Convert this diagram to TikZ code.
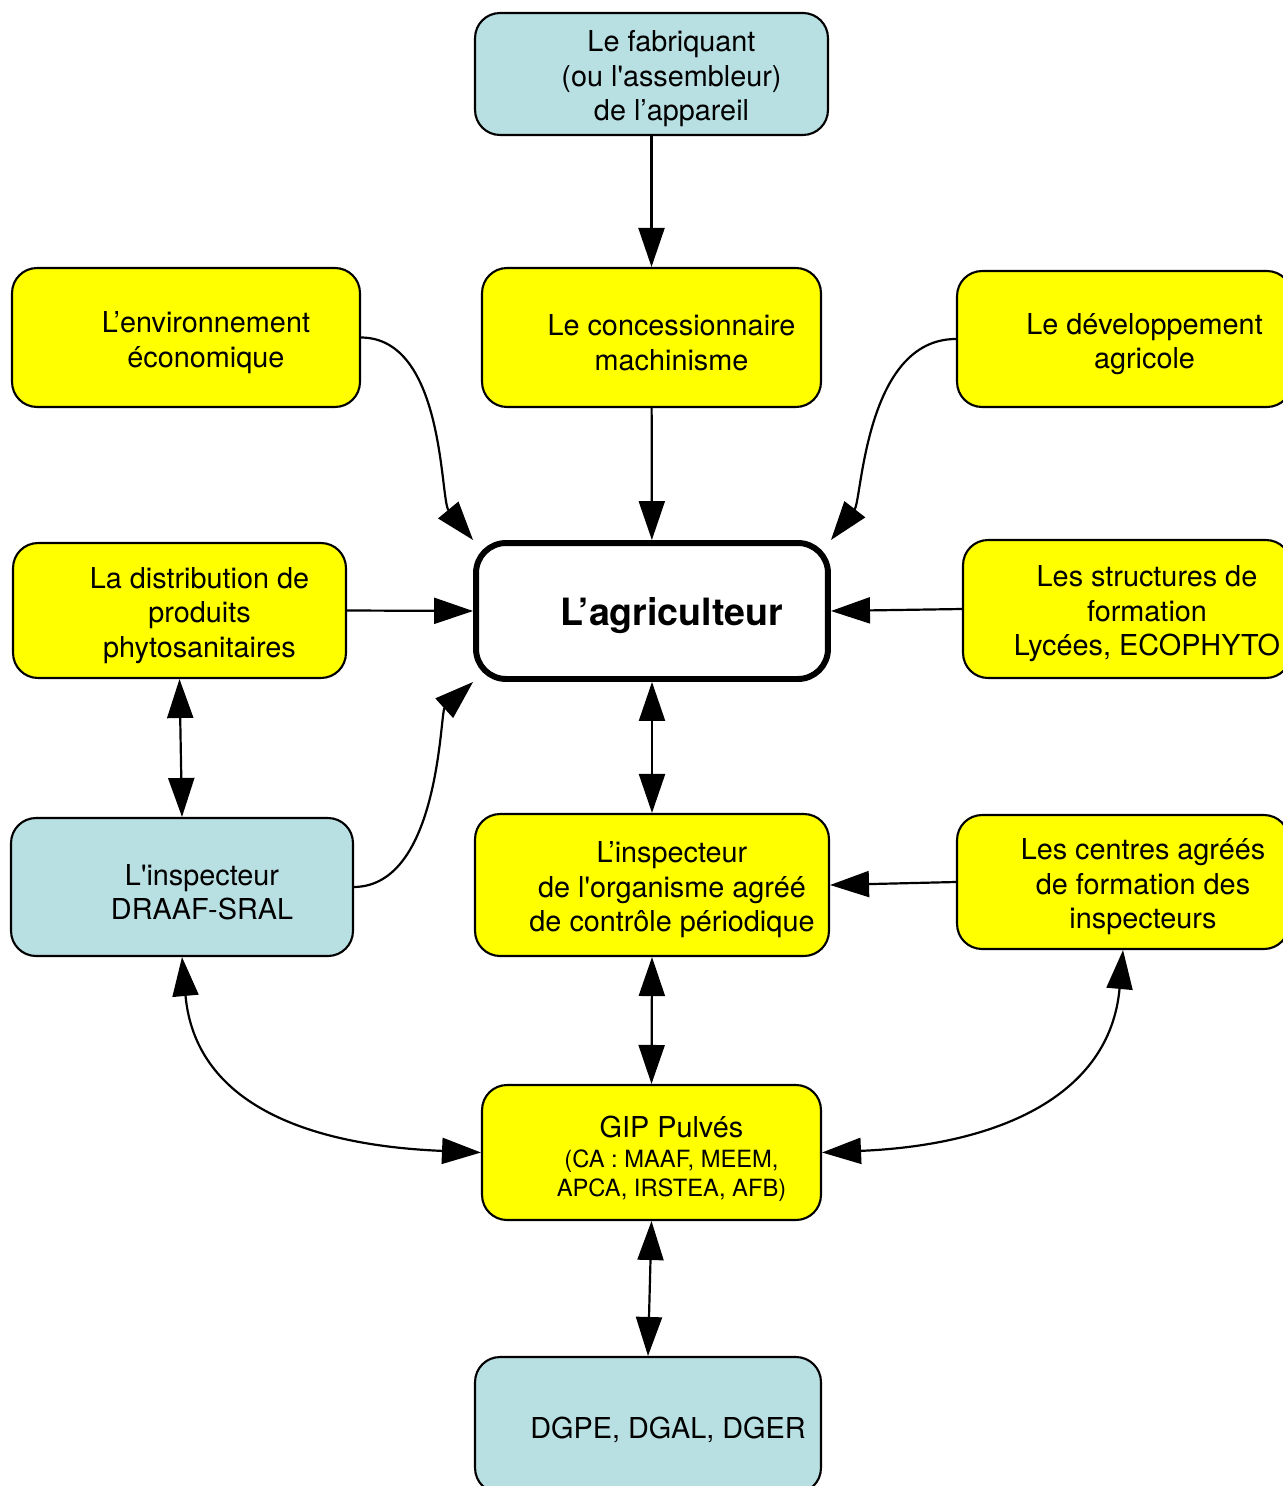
\documentclass[tikz,border=0pt]{standalone}
\usepackage{fontspec}
\setmainfont{TeX Gyre Heros}
\usetikzlibrary{arrows.meta,positioning}
\definecolor{jaune}{HTML}{FFFF00}
\definecolor{bleu}{HTML}{B8DFE2}
\tikzset{
  box/.style={draw,line width=1.2pt,rounded corners=0.5cm},
  ybox/.style={box,fill=jaune},
  bbox/.style={box,fill=bleu},
  txt/.style={align=center,inner sep=0pt,font=\fontsize{16.4}{19.6}\selectfont},
  arr/.style={line width=1.25pt,-{Triangle[length=0.78cm,width=0.52cm]}},
  darr/.style={line width=1.25pt,{Triangle[length=0.78cm,width=0.52cm]}-{Triangle[length=0.78cm,width=0.52cm]}}
}
\begin{document}
\begin{tikzpicture}[x=0.02cm,y=-0.02cm]
  \useasboundingbox (0,0) rectangle (1282,1486);
  % boxes
  \node[bbox,minimum width=7.06cm,minimum height=2.44cm] (fab) at (651.5,74) {};
  \node[ybox,minimum width=6.96cm,minimum height=2.78cm] (env) at (186,337.5) {};
  \node[ybox,minimum width=6.78cm,minimum height=2.78cm] (conc) at (651.5,337.5) {};
  \node[ybox,minimum width=6.70cm,minimum height=2.72cm] (dev) at (1124.5,339) {};
  \node[draw,fill=white,line width=3.4pt,rounded corners=0.6cm,minimum width=7.04cm,minimum height=2.72cm] (agri) at (652,611) {};
  \node[ybox,minimum width=6.66cm,minimum height=2.70cm] (distr) at (179.5,610.5) {};
  \node[ybox,minimum width=6.56cm,minimum height=2.76cm] (struct) at (1127,609) {};
  \node[bbox,minimum width=6.84cm,minimum height=2.76cm] (draaf) at (182,887) {};
  \node[ybox,minimum width=7.08cm,minimum height=2.84cm] (org) at (652,885) {};
  \node[ybox,minimum width=6.64cm,minimum height=2.68cm] (centres) at (1123,882) {};
  \node[ybox,minimum width=6.78cm,minimum height=2.70cm] (gip) at (651.5,1152.5) {};
  \node[bbox,minimum width=6.92cm,minimum height=2.72cm] (dg) at (648,1425) {};
  % texts
  \node[txt] (fab-t) at ([xshift=4mm,yshift=-1mm]fab) {Le fabriquant\\(ou l\textquotesingle assembleur)\\de l’appareil};
  \node[txt] (env-t) at ([xshift=4mm,yshift=-1mm]env) {L’environnement\\économique};
  \node[txt] (conc-t) at ([xshift=4mm,yshift=-1mm]conc) {Le concessionnaire\\machinisme};
  \node[txt] (dev-t) at ([xshift=4mm,yshift=-1mm]dev) {Le développement\\agricole};
  \node[txt,font=\fontsize{21.4}{24}\selectfont\bfseries] (agri-t) at ([xshift=4mm,yshift=-1mm]agri) {L’agriculteur};
  \node[txt] (distr-t) at ([xshift=4mm,yshift=-1mm]distr) {La distribution de\\produits\\phytosanitaires};
  \node[txt] (struct-t) at ([xshift=4mm,yshift=-1mm]struct) {Les structures de\\formation\\Lycées, ECOPHYTO};
  \node[txt] (draaf-t) at ([xshift=4mm,yshift=-1mm]draaf) {L\textquotesingle inspecteur\\DRAAF-SRAL};
  \node[txt] (org-t) at ([xshift=4mm,yshift=-1mm]org) {L’inspecteur\\de l\textquotesingle organisme agréé\\de contrôle périodique};
  \node[txt] (centres-t) at ([xshift=4mm,yshift=-1mm]centres) {Les centres agréés\\de formation des\\inspecteurs};
  \node[txt] (gip-t) at ([xshift=4mm,yshift=-1.2mm]gip) {GIP Pulvés\\[-2.2pt]{\fontsize{13.5}{16.5}\selectfont (CA : MAAF, MEEM,}\\[-3.2pt]{\fontsize{13.5}{16.5}\selectfont APCA, IRSTEA, AFB)}};
  \node[txt] (dg-t) at ([xshift=4mm,yshift=-1mm]dg) {DGPE, DGAL, DGER};
  % connectors
  \draw[arr] (fab) -- (conc);
  \draw[arr] (conc) -- (agri);
  \draw[arr] (env.east) .. controls (445,338) and (440,500) .. (agri.north west);
  \draw[arr] (dev.west) .. controls (865,339) and (862,500) .. (agri.north east);
  \draw[arr] (distr.east) -- (agri.west);
  \draw[arr] (struct.west) -- (agri.east);
  \draw[arr] (draaf.east) .. controls (440,886) and (440,712) .. (agri.south west);
  \draw[darr] (distr.south) -- (draaf.north);
  \draw[darr] (agri.south) -- (org.north);
  \draw[arr] (centres.west) -- (org.east);
  \draw[darr] (org.south) -- (gip.north);
  \draw[darr] (draaf.south) .. controls (195,1100) and (300,1145) .. (gip.west);
  \draw[darr] (centres.south) .. controls (1110,1095) and (1000,1145) .. (gip.east);
  \draw[darr] (gip.south) -- (dg.north);
\end{tikzpicture}
\end{document}
